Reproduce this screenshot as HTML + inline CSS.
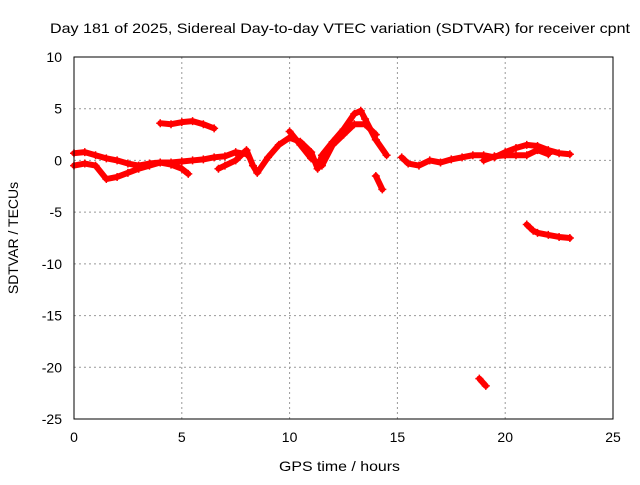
<!DOCTYPE html>
<html><head><meta charset="utf-8"><style>
body{margin:0;background:#fff}
svg text{font-family:"Liberation Sans",sans-serif;font-size:14px;fill:#000}
</style></head><body>
<svg id="c" width="640" height="480">
<rect width="640" height="480" fill="#fff"/>
<g id="grid"></g>
<g id="ticks"></g>
<g id="series"></g>
<rect x="74" y="57" width="539" height="362" fill="none" stroke="#000" stroke-width="1"/>
<text x="50" y="33" textLength="580" lengthAdjust="spacingAndGlyphs">Day 181 of 2025, Sidereal Day-to-day VTEC variation (SDTVAR) for receiver cpnt</text>
<text x="279" y="471" textLength="121" lengthAdjust="spacingAndGlyphs">GPS time / hours</text>
<text transform="translate(18,238) rotate(-90)" text-anchor="middle">SDTVAR / TECUs</text>
</svg>
<script>
const xTicks=[0,5,10,15,20,25];
const yTicks=[10,5,0,-5,-10,-15,-20,-25];
const seg1=[[0,0.7],[0.5,0.8],[1,0.5],[1.5,0.2],[2,0],[2.5,-0.3],[3,-0.5],[3.5,-0.3],[4,-0.2],[4.5,-0.2],[5,-0.1],[5.5,0],[6,0.1],[6.5,0.3],[7,0.4],[7.5,0.8],[8,0.6]];
const seg2=[[0,-0.5],[0.5,-0.3],[1,-0.5],[1.5,-1.8],[2,-1.6],[2.5,-1.2],[3,-0.8],[3.5,-0.5],[4,-0.2],[4.5,-0.4],[5,-0.8],[5.3,-1.3]];
const seg3=[[4,3.6],[4.5,3.5],[5,3.7],[5.5,3.8],[6,3.5],[6.5,3.1]];
const seg4=[[6.7,-0.8],[7,-0.5],[7.5,0],[8,1],[8.3,-0.5],[8.5,-1.2],[9,0.3],[9.5,1.5],[10,2.2],[10.5,1.8],[11,0.8],[11.3,-0.8],[11.5,0.5],[12,1.8],[12.5,3],[13,4.5],[13.3,4.8],[13.5,4],[14,2],[14.5,0.5]];
const seg5=[[10,2.8],[10.5,1.5],[11,0.2],[11.5,-0.5],[12,1.5],[12.5,2.5],[13,3.5],[13.5,3.5],[14,2.5]];
const seg6=[[14,-1.5],[14.3,-2.8]];
const seg7=[[15.2,0.3],[15.5,-0.3],[16,-0.5],[16.5,0],[17,-0.2],[17.5,0.1],[18,0.3],[18.5,0.5],[19,0.5],[19.5,0.3],[20,0.8],[20.5,1.2],[21,1.5],[21.5,1.4],[22,1],[22.5,0.7],[23,0.6]];
const seg8=[[19,0],[19.5,0.4],[20,0.5],[20.5,0.5],[21,0.5],[21.5,1],[22,0.6]];
const seg9=[[21,-6.2],[21.3,-6.8],[21.5,-7],[22,-7.2],[22.5,-7.4],[23,-7.5]];
const seg10=[[18.8,-21.1],[19.1,-21.8]];
const segments=[seg1,seg2,seg3,seg4,seg5,seg6,seg7,seg8,seg9,seg10];
const NS="http://www.w3.org/2000/svg";
const X=v=>74+v*539/25, Y=v=>57+(10-v)*362/35;
const grid=document.getElementById('grid'),ticks=document.getElementById('ticks'),ser=document.getElementById('series');
function mk(t,a,p){const e=document.createElementNS(NS,t);for(const k in a)e.setAttribute(k,a[k]);p.appendChild(e);return e;}
xTicks.forEach(t=>{
 if(t>0&&t<25){const g=mk('line',{x1:X(t),x2:X(t),y1:57,y2:419,stroke:'#999','stroke-dasharray':'2,3'},grid);
 
 }
 const l=mk('text',{x:X(t),y:442,'text-anchor':'middle'},ticks);l.textContent=t;
 
 
});
yTicks.forEach(t=>{
 if(t<10&&t>-25){const g=mk('line',{x1:74,x2:613,y1:Y(t),y2:Y(t),stroke:'#999','stroke-dasharray':'2,3'},grid);
 
 }
 const l=mk('text',{x:62,y:Y(t)+5,'text-anchor':'end'},ticks);l.textContent=t;
 
 
});
segments.forEach(s=>{
 const pl=mk('polyline',{points:s.map(p=>X(p[0])+','+Y(p[1])).join(' '),fill:'none',stroke:'#f00','stroke-width':6,'stroke-linejoin':'round','stroke-linecap':'round'},ser);
 
 
 s.forEach(p=>{
  const cx=X(p[0]),cy=Y(p[1]);
  const m=mk('path',{d:`M${cx-4},${cy}h8M${cx},${cy-4}v8`,stroke:'#f00','stroke-width':1.5},ser);
  
  
 });
});
</script>
</body></html>
